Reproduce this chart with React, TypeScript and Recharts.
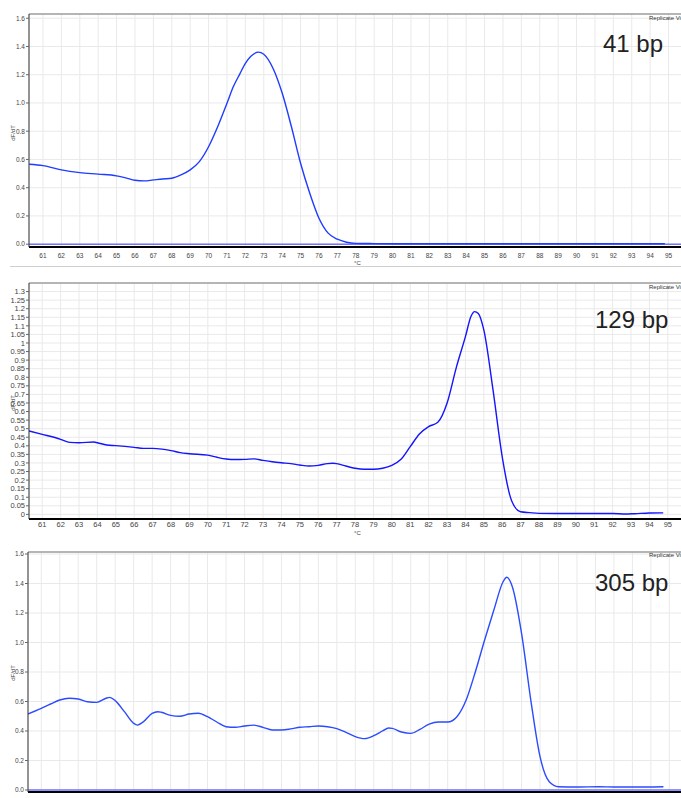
import React from "react";
import {
  LineChart, Line, XAxis, YAxis, CartesianGrid, ReferenceLine,
} from "recharts";

// melt peak temperatures (°C) and dF/dT readings, one set per amplicon
const temps41 = [60.25, 61, 62, 63, 64, 65, 65.5, 66, 66.5, 67, 67.5, 68, 68.5, 69, 69.5, 70, 70.5, 71, 71.35, 71.7, 72, 72.3, 72.7, 73, 73.5, 74, 74.5, 75, 75.5, 76, 76.5, 77, 77.5, 78, 79, 80, 82, 85, 88, 91, 94.8];
const values41 = [0.566, 0.556, 0.526, 0.507, 0.496, 0.484, 0.47, 0.453, 0.448, 0.455, 0.462, 0.467, 0.49, 0.526, 0.585, 0.69, 0.833, 0.998, 1.116, 1.206, 1.28, 1.33, 1.36, 1.345, 1.246, 1.07, 0.833, 0.573, 0.361, 0.184, 0.078, 0.035, 0.014, 0.006, 0.004, 0.003, 0.003, 0.003, 0.003, 0.003, 0.003];

const temps129 = [60.27, 61, 62, 62.5, 63, 63.8, 64, 64.5, 65, 66, 66.5, 67, 67.5, 68, 68.5, 69, 70, 70.5, 71, 71.5, 72, 72.5, 73, 73.5, 74, 74.5, 75, 75.5, 76, 76.5, 76.8, 77, 77.5, 78, 78.5, 79, 79.5, 80, 80.5, 81, 81.5, 82, 82.5, 83, 83.5, 84, 84.3, 84.5, 84.7, 85, 85.5, 86, 86.5, 87, 87.5, 88, 89, 90, 91, 92, 92.7, 93.2, 94, 94.75];
const values129 = [0.487, 0.467, 0.438, 0.42, 0.418, 0.422, 0.418, 0.405, 0.401, 0.391, 0.385, 0.385, 0.381, 0.372, 0.36, 0.354, 0.346, 0.333, 0.323, 0.32, 0.321, 0.324, 0.315, 0.307, 0.301, 0.296, 0.288, 0.282, 0.286, 0.296, 0.298, 0.296, 0.282, 0.269, 0.263, 0.263, 0.269, 0.286, 0.321, 0.395, 0.469, 0.512, 0.537, 0.648, 0.855, 1.037, 1.154, 1.183, 1.172, 1.076, 0.726, 0.336, 0.083, 0.015, 0.01, 0.006, 0.005, 0.005, 0.005, 0.005, 0.002, 0.004, 0.008, 0.009];

const temps305 = [60.26, 61, 61.5, 62, 62.5, 63, 63.5, 64, 64.5, 64.7, 65, 65.5, 66, 66.2, 66.5, 67, 67.3, 67.5, 68, 68.5, 69, 69.5, 70, 70.5, 71, 71.5, 72, 72.5, 73, 73.5, 74, 74.5, 75, 75.5, 76, 76.5, 77, 77.5, 78, 78.5, 79, 79.5, 79.8, 80, 80.5, 81, 81.5, 82, 82.5, 83, 83.5, 84, 84.5, 85, 85.5, 86, 86.2, 86.5, 87, 87.5, 88, 88.5, 89, 90, 91.2, 92, 93, 94.68];
const values305 = [0.515, 0.554, 0.583, 0.61, 0.622, 0.617, 0.598, 0.594, 0.622, 0.628, 0.606, 0.531, 0.452, 0.44, 0.46, 0.52, 0.531, 0.527, 0.506, 0.5, 0.515, 0.52, 0.497, 0.461, 0.429, 0.425, 0.434, 0.44, 0.425, 0.407, 0.407, 0.414, 0.425, 0.429, 0.434, 0.429, 0.416, 0.391, 0.362, 0.348, 0.368, 0.402, 0.42, 0.418, 0.393, 0.384, 0.411, 0.447, 0.461, 0.461, 0.497, 0.61, 0.802, 1.017, 1.22, 1.412, 1.442, 1.378, 1.062, 0.61, 0.226, 0.056, 0.022, 0.02, 0.022, 0.02, 0.02, 0.022];

const tempTicks = [61, 62, 63, 64, 65, 66, 67, 68, 69, 70, 71, 72, 73, 74, 75, 76, 77, 78, 79, 80, 81, 82, 83, 84, 85, 86, 87, 88, 89, 90, 91, 92, 93, 94, 95];
const ticksWide = [0, 0.2, 0.4, 0.6, 0.8, 1.0, 1.2, 1.4, 1.6];
const ticksFine = [0, 0.05, 0.1, 0.15, 0.2, 0.25, 0.3, 0.35, 0.4, 0.45, 0.5, 0.55, 0.6, 0.65, 0.7, 0.75, 0.8, 0.85, 0.9, 0.95, 1, 1.05, 1.1, 1.15, 1.2, 1.25, 1.3];

const toRows = (t: number[], v: number[]) => t.map((temp, i) => ({ temp, v: v[i] }));

const sans = "'Liberation Sans', Arial, sans-serif";

interface PanelProps {
  top: number;
  height: number;
  marginTop: number;
  axisW: number;
  xDomain: [number, number];
  yDomain: [number, number];
  yTicks: number[];
  fmt: (v: number) => string;
  rows: { temp: number; v: number }[];
  lineColor: string;
  baseline: boolean;
  tickFont: number;
  xTickSize: number;
  name: string;
  nameLeft: number;
  nameTop: number;
  viewTop: number;
  unitTop: number | null;
  yLabelTop: number;
}

function MeltPanel(p: PanelProps) {
  const tick = { fontSize: p.tickFont, fill: "#444", fontFamily: sans };
  return (
    <div style={{ position: "absolute", left: 0, top: p.top, width: 700, height: p.height }}>
      <LineChart width={700} height={p.height} data={p.rows}
        margin={{ top: p.marginTop, right: 0, left: 0, bottom: 0 }}>
        <CartesianGrid stroke="#e9e9e9" strokeWidth={1} />
        <XAxis
          dataKey="temp" type="number" domain={p.xDomain} ticks={tempTicks}
          allowDataOverflow height={22} tickLine={false} tickSize={p.xTickSize} tickMargin={2}
          axisLine={{ stroke: "#000", strokeWidth: 2 }} tick={tick} interval={0}
        />
        <YAxis
          type="number" domain={p.yDomain} ticks={p.yTicks} allowDataOverflow
          width={p.axisW} tickSize={3} tickMargin={1} interval={0}
          tickFormatter={p.fmt} tick={tick}
          axisLine={{ stroke: "#333" }} tickLine={{ stroke: "#666" }}
        />
        <ReferenceLine y={p.yDomain[1]} stroke="#777" strokeWidth={1} />
        {p.baseline && <ReferenceLine y={0} stroke="#7373ff" strokeWidth={1.5} />}
        <Line
          type="monotone" dataKey="v" stroke={p.lineColor} strokeWidth={1.4}
          dot={false} activeDot={false} isAnimationActive={false}
        />
      </LineChart>
      <div style={{ position: "absolute", left: p.nameLeft, top: p.nameTop, fontFamily: sans, fontSize: 24, color: "#222", whiteSpace: "nowrap" }}>
        {p.name}
      </div>
      <div style={{ position: "absolute", left: 649, top: p.viewTop, fontFamily: sans, fontSize: 6, color: "#333", whiteSpace: "nowrap" }}>
        Replicate View
      </div>
      {p.unitTop !== null && (
        <div style={{ position: "absolute", left: 354, top: p.unitTop, fontFamily: sans, fontSize: 6, color: "#444" }}>
          °C
        </div>
      )}
      <div style={{
        position: "absolute", left: 13, top: p.yLabelTop, fontFamily: sans, fontSize: 6, color: "#444",
        transform: "translate(-50%, -50%) rotate(-90deg)", whiteSpace: "nowrap",
      }}>
        dF/dT
      </div>
    </div>
  );
}

export default function App() {
  return (
    <div style={{ position: "absolute", left: 0, top: 0, width: 681, height: 798, overflow: "hidden", background: "#fff" }}>
      <MeltPanel
        top={0} height={269} marginTop={14} axisW={29}
        xDomain={[60.24, 96.71]} yDomain={[-0.02, 1.63]} yTicks={ticksWide}
        fmt={(v) => v.toFixed(1)} rows={toRows(temps41, values41)}
        lineColor="#1f3cff" baseline tickFont={6.5} xTickSize={4}
        name="41 bp" nameLeft={603} nameTop={30} viewTop={15} unitTop={260} yLabelTop={133}
      />
      <div style={{ position: "absolute", left: 10, top: 266, width: 680, height: 1, background: "#cfcfcf" }} />
      <MeltPanel
        top={280} height={261} marginTop={3} axisW={29}
        xDomain={[60.28, 96.75]} yDomain={[-0.027, 1.35]} yTicks={ticksFine}
        fmt={(v) => String(Number(v.toFixed(2)))} rows={toRows(temps129, values129)}
        lineColor="#1414ff" baseline={false} tickFont={7.5} xTickSize={1}
        name="129 bp" nameLeft={595} nameTop={26} viewTop={4} unitTop={250} yLabelTop={123}
      />
      <MeltPanel
        top={540} height={274} marginTop={12} axisW={28}
        xDomain={[60.28, 96.66]} yDomain={[-0.0136, 1.6136]} yTicks={ticksWide}
        fmt={(v) => v.toFixed(1)} rows={toRows(temps305, values305)}
        lineColor="#2a4bff" baseline tickFont={6.5} xTickSize={4}
        name="305 bp" nameLeft={595} nameTop={29} viewTop={12} unitTop={null} yLabelTop={133}
      />
    </div>
  );
}
